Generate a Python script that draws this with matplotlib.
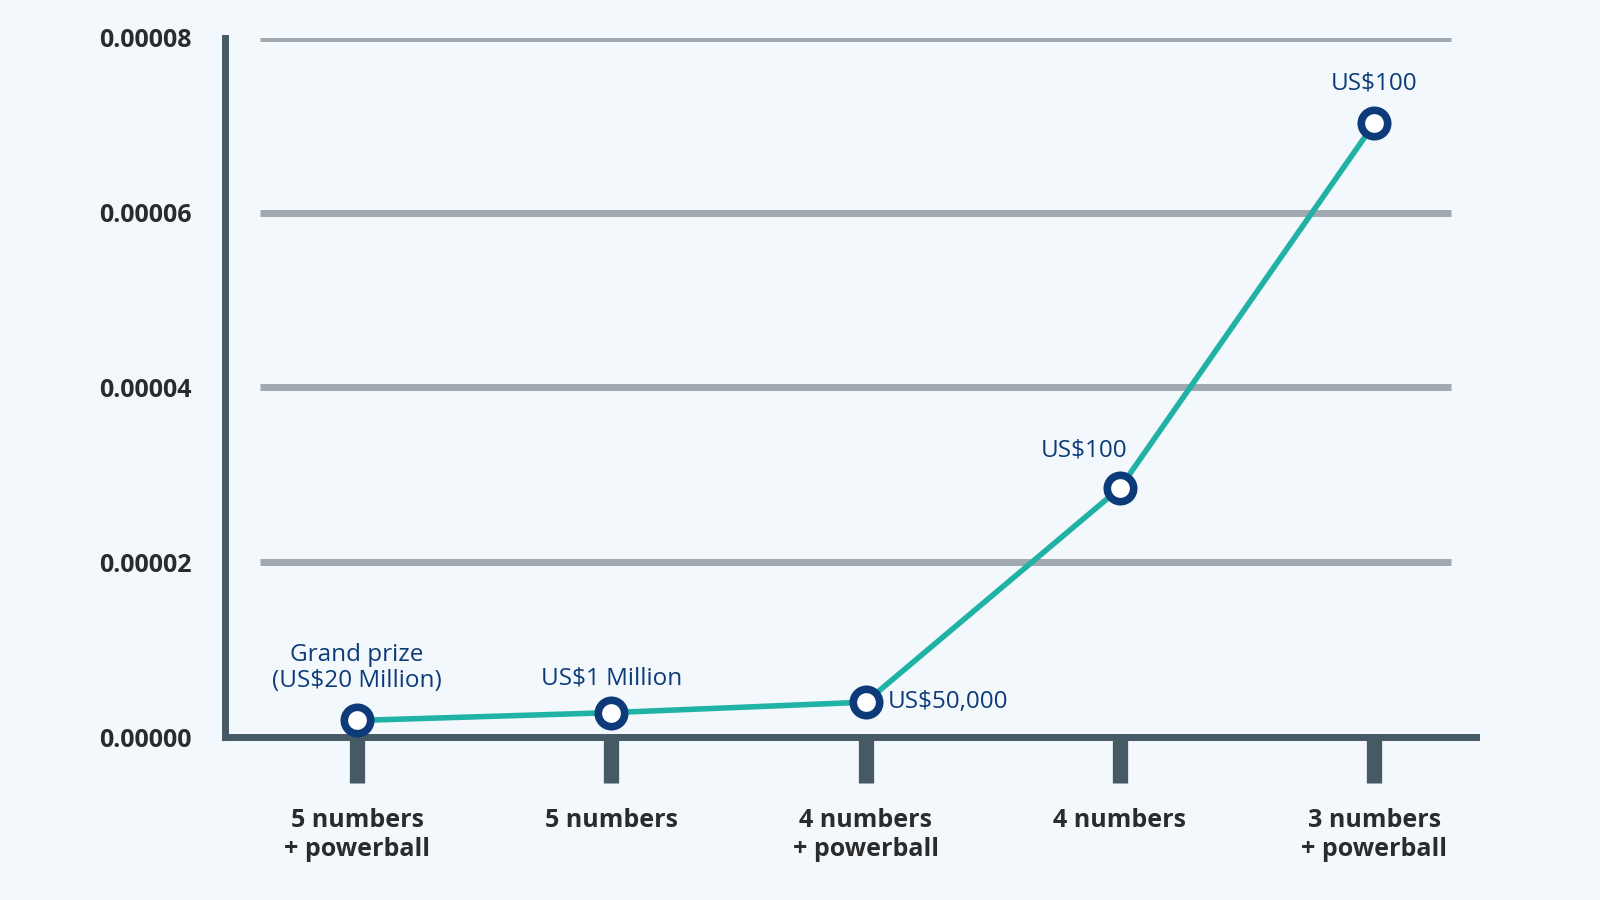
import numpy as np
import matplotlib.pyplot as plt

categories = ["5 numbers\n+ powerball", "5 numbers", "4 numbers\n+ powerball", "4 numbers", "3 numbers\n+ powerball"]
odds = [1.9e-6, 2.8e-6, 4.0e-6, 2.85e-5, 7.02e-5]
prizes = ["Grand prize\n(US$20 Million)", "US$1 Million", "US$50,000", "US$100", "US$100"]
yticks = [0, 0.00002, 0.00004, 0.00006, 0.00008]

bg = "#f3f8fc"
dark = "#455a64"
navy = "#0d3b7a"
teal = "#20b2a4"

plt.rcParams['font.family'] = ['Open Sans', 'DejaVu Sans']

fig = plt.figure(figsize=(16, 9), dpi=100, facecolor=bg)
ax = fig.add_axes([0.1405, 0.181, 0.782, 0.777], facecolor=bg)
x = np.arange(len(categories))

ax.set_xlim(-0.52, 4.4)
ax.set_ylim(0, 0.00008)
ax.hlines(yticks[1:], -0.38, 4.3, color="#a0a8b0", lw=5, zorder=1)

ax.plot(x, odds, color=teal, lw=4, zorder=3)
ax.plot(x, odds, 'o', ms=19, mfc="white", mec=navy, mew=5.5, zorder=4)

# labels
offsets = [(0, 20, 'center', 'bottom'), (0, 16, 'center', 'bottom'),
           (16, 0, 'left', 'center'), (-26, 18, 'center', 'bottom'),
           (0, 20, 'center', 'bottom')]
for xi, yi, txt, (dx, dy, ha, va) in zip(x, odds, prizes, offsets):
    ax.annotate(txt, (xi, yi), xytext=(dx, dy), textcoords='offset points',
                ha=ha, va=va, color=navy, fontsize=17.5, linespacing=1.1)

for s in ['top', 'right']:
    ax.spines[s].set_visible(False)
for s in ['left', 'bottom']:
    ax.spines[s].set_color(dark)
    ax.spines[s].set_linewidth(5)

ax.set_yticks(yticks)
ax.set_yticklabels([f"{v:.5f}" for v in yticks], fontsize=18, fontweight='bold', color="#2b2b2b")
ax.tick_params(axis='y', length=0, pad=24)
ax.set_xticks(x)
ax.set_xticklabels(categories, fontsize=18, fontweight='bold', color="#2b2b2b", linespacing=1.2)
ax.tick_params(axis='x', length=33, width=11, color=dark, pad=18)

fig.savefig("out.png", facecolor=bg)
